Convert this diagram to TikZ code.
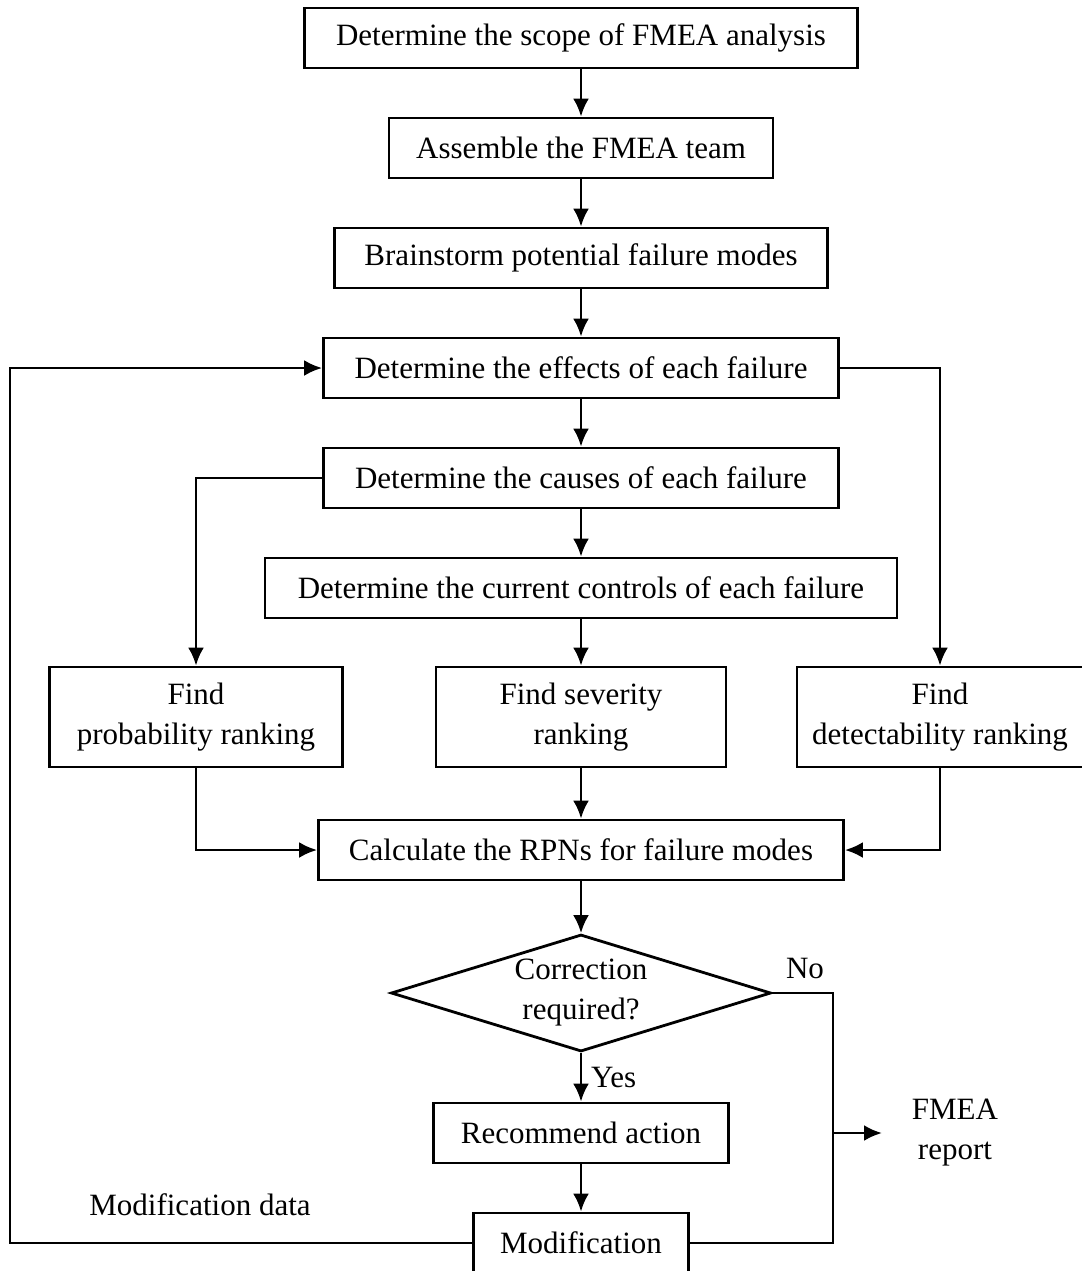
\documentclass[tikz,border=0pt]{standalone}
\usepackage{fontspec}
\setmainfont{Liberation Serif}
\usetikzlibrary{
	shapes.geometric,					% Diamond shape for the decision
	positioning,						% Advanced relative positioning
	arrows.meta,						% Advanced arrows
	calc								% Calculate point coordinates
}

\begin{document}
\begin{tikzpicture}[x=0.5pt, y=-0.5pt, line width=1.4pt, >={Latex[length=9pt, width=8pt]}, font=\fontsize{15.5}{20}\selectfont]
		\tikzstyle{box} = [draw, minimum height=30pt, inner sep=2pt]
		\tikzstyle{tallbox} = [draw, minimum height=50pt, align=center, inner sep=2pt]
		\tikzstyle{decision} = [draw, diamond, minimum width=190pt, minimum height=58.5pt, inner sep=0pt]
		
		% Page frame
		\useasboundingbox (0,0) rectangle (1082,1271);
		\clip (0,0) rectangle (1082,1271);
		
		% Main column
		\node[box, minimum width=276.5pt] at (581,38) (scope) {Determine the scope of FMEA analysis};
		\node[box, minimum width=192pt] at (581,148) (team) {Assemble the FMEA team};
		\node[box, minimum width=246.5pt] at (581,258) (brainstorm) {Brainstorm potential failure modes};
		\node[box, minimum width=257.5pt] at (581,368) (effects) {Determine the effects of each failure};
		\node[box, minimum width=257.5pt] at (581,478) (causes) {Determine the causes of each failure};
		\node[box, minimum width=316pt] at (581,588) (controls) {Determine the current controls of each failure};
		
		%% Rankings
		\node[tallbox, minimum width=146.5pt] at (196,717) (probRank) {Find\\probability ranking};
		\node[tallbox, minimum width=145pt] at (581,717) (sevRank) {Find severity\\ranking};
		\node[tallbox, minimum width=143pt] at (940,717) (detRank) {Find\\detectability ranking};
		
		%% RPN and decision
		\node[box, minimum width=262.5pt] at (581,850) (rpn) {Calculate the RPNs for failure modes};
		\node[decision] at (581,993) (decide) {};
		\node[align=center] at (decide) (decideText) {Correction\\required?};
		\node[box, minimum width=147.5pt] at (581,1133) (recommend) {Recommend action};
		\node[box, minimum width=107.5pt] at (581,1243) (modif) {Modification};
		
		% Arrows down the column
		\draw[->] (scope) -- (team);
		\draw[->] (team) -- (brainstorm);
		\draw[->] (brainstorm) -- (effects);
		\draw[->] (effects) -- (causes);
		\draw[->] (causes) -- (controls);
		\draw[->] (controls) -- (sevRank);
		\draw[->] (causes.west) -| (probRank.north);
		\draw[->] (effects.east) -| (detRank.north);
		\draw[->] (probRank.south) |- (rpn.west);
		\draw[->] (sevRank) -- (rpn);
		\draw[->] (detRank.south) |- (rpn.east);
		\draw[->] (rpn) -- (decide);
		\draw[->] (decide.south) -- node[midway, right=1pt] (yesLabel) {Yes} (recommend.north);
		\draw[->] (recommend) -- (modif);
		
		% No branch and report
		\node at (805,968) (noLabel) {No};
		\coordinate (noBottom) at (833,1243);
		\coordinate (reportBranch) at (833,1133);
		\coordinate (reportTip) at (882,1133);
		\draw (decide.east) -| (noBottom) -- (modif.east);
		\node[align=center] at (955,1133) (report) {FMEA\\report};
		\draw[->] (reportBranch) -- (reportTip);
		
		% Feedback loop
		\coordinate (loopCorner) at (10,1243);
		\draw[->] (modif.west) -- (loopCorner) |- (effects.west);
		\node at (200,1205) (modDataLabel) {Modification data};
	\end{tikzpicture}
\end{document}
